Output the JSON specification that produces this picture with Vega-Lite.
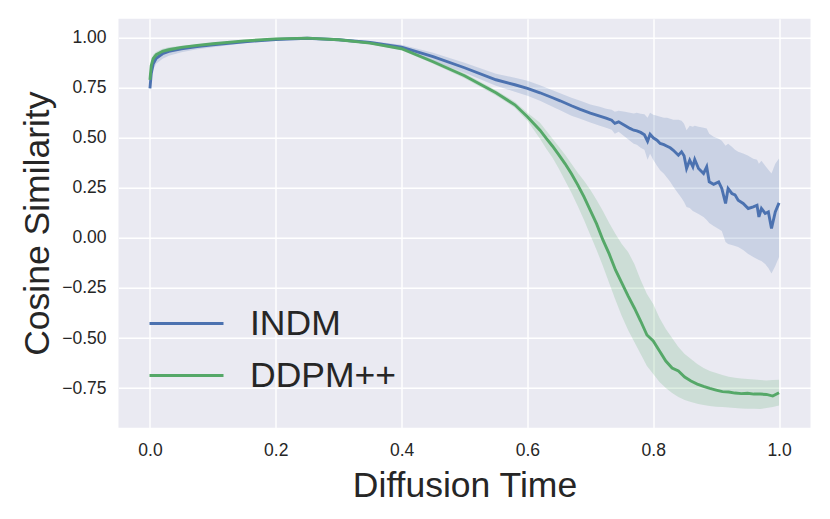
{
  "$schema": "https://vega.github.io/schema/vega-lite/v6.json",
  "description": "Cosine similarity over diffusion time, INDM vs DDPM++",
  "width": 692,
  "height": 409,
  "autosize": {"type": "none"},
  "padding": {"left": 118.5, "top": 18.7, "right": 19.5, "bottom": 91.3},
  "background": "white",
  "config": {
    "view": {"fill": "#EAEAF2", "stroke": null},
    "font": "Liberation Sans",
    "axis": {
      "grid": true,
      "gridColor": "white",
      "gridWidth": 1.4,
      "domain": false,
      "ticks": false,
      "labelFont": "Liberation Sans",
      "labelFontSize": 17.5,
      "labelColor": "#262626",
      "titleFont": "Liberation Sans",
      "titleFontSize": 35.5,
      "titleFontWeight": "normal",
      "titleColor": "#262626"
    }
  },
  "data": {
    "values": [
      {"t": 0, "s": "INDM", "m": 0.747, "lo": 0.725, "hi": 0.77},
      {"t": 0.002, "s": "INDM", "m": 0.82, "lo": 0.79, "hi": 0.85},
      {"t": 0.005, "s": "INDM", "m": 0.868, "lo": 0.84, "hi": 0.893},
      {"t": 0.01, "s": "INDM", "m": 0.897, "lo": 0.87, "hi": 0.92},
      {"t": 0.02, "s": "INDM", "m": 0.92, "lo": 0.895, "hi": 0.94},
      {"t": 0.03, "s": "INDM", "m": 0.932, "lo": 0.91, "hi": 0.95},
      {"t": 0.05, "s": "INDM", "m": 0.945, "lo": 0.927, "hi": 0.958},
      {"t": 0.075, "s": "INDM", "m": 0.956, "lo": 0.942, "hi": 0.966},
      {"t": 0.1, "s": "INDM", "m": 0.965, "lo": 0.953, "hi": 0.974},
      {"t": 0.15, "s": "INDM", "m": 0.98, "lo": 0.972, "hi": 0.987},
      {"t": 0.2, "s": "INDM", "m": 0.991, "lo": 0.986, "hi": 0.995},
      {"t": 0.25, "s": "INDM", "m": 0.997, "lo": 0.994, "hi": 0.999},
      {"t": 0.3, "s": "INDM", "m": 0.99, "lo": 0.985, "hi": 0.995},
      {"t": 0.35, "s": "INDM", "m": 0.976, "lo": 0.968, "hi": 0.984},
      {"t": 0.4, "s": "INDM", "m": 0.953, "lo": 0.94, "hi": 0.965},
      {"t": 0.45, "s": "INDM", "m": 0.905, "lo": 0.885, "hi": 0.925},
      {"t": 0.5, "s": "INDM", "m": 0.85, "lo": 0.825, "hi": 0.875},
      {"t": 0.55, "s": "INDM", "m": 0.79, "lo": 0.76, "hi": 0.82},
      {"t": 0.58, "s": "INDM", "m": 0.765, "lo": 0.73, "hi": 0.8},
      {"t": 0.6, "s": "INDM", "m": 0.747, "lo": 0.71, "hi": 0.785},
      {"t": 0.62, "s": "INDM", "m": 0.725, "lo": 0.685, "hi": 0.763},
      {"t": 0.64, "s": "INDM", "m": 0.7, "lo": 0.655, "hi": 0.738},
      {"t": 0.652, "s": "INDM", "m": 0.685, "lo": 0.638, "hi": 0.722},
      {"t": 0.67, "s": "INDM", "m": 0.66, "lo": 0.61, "hi": 0.7},
      {"t": 0.684, "s": "INDM", "m": 0.642, "lo": 0.595, "hi": 0.685},
      {"t": 0.7, "s": "INDM", "m": 0.623, "lo": 0.577, "hi": 0.667},
      {"t": 0.715, "s": "INDM", "m": 0.608, "lo": 0.56, "hi": 0.655},
      {"t": 0.725, "s": "INDM", "m": 0.598, "lo": 0.55, "hi": 0.645},
      {"t": 0.734, "s": "INDM", "m": 0.588, "lo": 0.54, "hi": 0.64},
      {"t": 0.739, "s": "INDM", "m": 0.572, "lo": 0.52, "hi": 0.63},
      {"t": 0.745, "s": "INDM", "m": 0.58, "lo": 0.53, "hi": 0.635},
      {"t": 0.755, "s": "INDM", "m": 0.562, "lo": 0.505, "hi": 0.63},
      {"t": 0.763, "s": "INDM", "m": 0.547, "lo": 0.485, "hi": 0.625},
      {"t": 0.769, "s": "INDM", "m": 0.538, "lo": 0.47, "hi": 0.622},
      {"t": 0.774, "s": "INDM", "m": 0.535, "lo": 0.465, "hi": 0.625},
      {"t": 0.78, "s": "INDM", "m": 0.527, "lo": 0.45, "hi": 0.62},
      {"t": 0.786, "s": "INDM", "m": 0.515, "lo": 0.44, "hi": 0.618},
      {"t": 0.791, "s": "INDM", "m": 0.483, "lo": 0.39, "hi": 0.6},
      {"t": 0.795, "s": "INDM", "m": 0.518, "lo": 0.42, "hi": 0.625},
      {"t": 0.8, "s": "INDM", "m": 0.5, "lo": 0.39, "hi": 0.615},
      {"t": 0.806, "s": "INDM", "m": 0.488, "lo": 0.36, "hi": 0.61},
      {"t": 0.811, "s": "INDM", "m": 0.472, "lo": 0.338, "hi": 0.605},
      {"t": 0.817, "s": "INDM", "m": 0.466, "lo": 0.32, "hi": 0.6},
      {"t": 0.822, "s": "INDM", "m": 0.458, "lo": 0.3, "hi": 0.6},
      {"t": 0.827, "s": "INDM", "m": 0.45, "lo": 0.28, "hi": 0.595},
      {"t": 0.832, "s": "INDM", "m": 0.438, "lo": 0.255, "hi": 0.59},
      {"t": 0.84, "s": "INDM", "m": 0.413, "lo": 0.22, "hi": 0.59},
      {"t": 0.845, "s": "INDM", "m": 0.43, "lo": 0.2, "hi": 0.585},
      {"t": 0.849, "s": "INDM", "m": 0.41, "lo": 0.18, "hi": 0.57},
      {"t": 0.853, "s": "INDM", "m": 0.347, "lo": 0.155, "hi": 0.538},
      {"t": 0.858, "s": "INDM", "m": 0.388, "lo": 0.15, "hi": 0.56},
      {"t": 0.863, "s": "INDM", "m": 0.355, "lo": 0.135, "hi": 0.555},
      {"t": 0.866, "s": "INDM", "m": 0.392, "lo": 0.13, "hi": 0.56},
      {"t": 0.872, "s": "INDM", "m": 0.347, "lo": 0.12, "hi": 0.555},
      {"t": 0.88, "s": "INDM", "m": 0.322, "lo": 0.105, "hi": 0.55},
      {"t": 0.885, "s": "INDM", "m": 0.355, "lo": 0.09, "hi": 0.547},
      {"t": 0.889, "s": "INDM", "m": 0.28, "lo": 0.075, "hi": 0.52},
      {"t": 0.896, "s": "INDM", "m": 0.268, "lo": 0.06, "hi": 0.505},
      {"t": 0.904, "s": "INDM", "m": 0.28, "lo": 0.045, "hi": 0.495},
      {"t": 0.909, "s": "INDM", "m": 0.247, "lo": 0.035, "hi": 0.485},
      {"t": 0.915, "s": "INDM", "m": 0.172, "lo": -0.02, "hi": 0.46},
      {"t": 0.919, "s": "INDM", "m": 0.247, "lo": -0.03, "hi": 0.47},
      {"t": 0.925, "s": "INDM", "m": 0.222, "lo": -0.035, "hi": 0.455},
      {"t": 0.93, "s": "INDM", "m": 0.215, "lo": -0.04, "hi": 0.44},
      {"t": 0.935, "s": "INDM", "m": 0.188, "lo": -0.045, "hi": 0.43},
      {"t": 0.943, "s": "INDM", "m": 0.172, "lo": -0.06, "hi": 0.422},
      {"t": 0.951, "s": "INDM", "m": 0.147, "lo": -0.08, "hi": 0.41},
      {"t": 0.959, "s": "INDM", "m": 0.155, "lo": -0.095, "hi": 0.395},
      {"t": 0.965, "s": "INDM", "m": 0.163, "lo": -0.105, "hi": 0.39},
      {"t": 0.968, "s": "INDM", "m": 0.105, "lo": -0.11, "hi": 0.37},
      {"t": 0.972, "s": "INDM", "m": 0.147, "lo": -0.115, "hi": 0.385},
      {"t": 0.978, "s": "INDM", "m": 0.122, "lo": -0.13, "hi": 0.36},
      {"t": 0.983, "s": "INDM", "m": 0.13, "lo": -0.15, "hi": 0.34},
      {"t": 0.988, "s": "INDM", "m": 0.047, "lo": -0.178, "hi": 0.322},
      {"t": 0.994, "s": "INDM", "m": 0.13, "lo": -0.14, "hi": 0.37},
      {"t": 1.0, "s": "INDM", "m": 0.175, "lo": -0.095, "hi": 0.397},

      {"t": 0, "s": "DDPM++", "m": 0.79, "lo": 0.77, "hi": 0.81},
      {"t": 0.002, "s": "DDPM++", "m": 0.86, "lo": 0.84, "hi": 0.88},
      {"t": 0.005, "s": "DDPM++", "m": 0.895, "lo": 0.88, "hi": 0.915},
      {"t": 0.01, "s": "DDPM++", "m": 0.915, "lo": 0.9, "hi": 0.93},
      {"t": 0.02, "s": "DDPM++", "m": 0.932, "lo": 0.92, "hi": 0.945},
      {"t": 0.03, "s": "DDPM++", "m": 0.94, "lo": 0.93, "hi": 0.952},
      {"t": 0.05, "s": "DDPM++", "m": 0.952, "lo": 0.943, "hi": 0.96},
      {"t": 0.075, "s": "DDPM++", "m": 0.962, "lo": 0.955, "hi": 0.968},
      {"t": 0.1, "s": "DDPM++", "m": 0.97, "lo": 0.965, "hi": 0.975},
      {"t": 0.15, "s": "DDPM++", "m": 0.984, "lo": 0.98, "hi": 0.988},
      {"t": 0.2, "s": "DDPM++", "m": 0.994, "lo": 0.99, "hi": 0.997},
      {"t": 0.25, "s": "DDPM++", "m": 0.998, "lo": 0.995, "hi": 1.0},
      {"t": 0.3, "s": "DDPM++", "m": 0.99, "lo": 0.986, "hi": 0.994},
      {"t": 0.35, "s": "DDPM++", "m": 0.973, "lo": 0.968, "hi": 0.978},
      {"t": 0.4, "s": "DDPM++", "m": 0.945, "lo": 0.938, "hi": 0.952},
      {"t": 0.45, "s": "DDPM++", "m": 0.88, "lo": 0.87, "hi": 0.89},
      {"t": 0.5, "s": "DDPM++", "m": 0.81, "lo": 0.798, "hi": 0.822},
      {"t": 0.55, "s": "DDPM++", "m": 0.725, "lo": 0.712, "hi": 0.738},
      {"t": 0.58, "s": "DDPM++", "m": 0.665, "lo": 0.65, "hi": 0.68},
      {"t": 0.6, "s": "DDPM++", "m": 0.605, "lo": 0.585, "hi": 0.625},
      {"t": 0.61, "s": "DDPM++", "m": 0.572, "lo": 0.54, "hi": 0.6},
      {"t": 0.62, "s": "DDPM++", "m": 0.538, "lo": 0.495, "hi": 0.575},
      {"t": 0.63, "s": "DDPM++", "m": 0.497, "lo": 0.445, "hi": 0.535},
      {"t": 0.64, "s": "DDPM++", "m": 0.458, "lo": 0.4, "hi": 0.495},
      {"t": 0.65, "s": "DDPM++", "m": 0.415, "lo": 0.345, "hi": 0.455},
      {"t": 0.66, "s": "DDPM++", "m": 0.37, "lo": 0.285, "hi": 0.415},
      {"t": 0.67, "s": "DDPM++", "m": 0.32, "lo": 0.225, "hi": 0.37},
      {"t": 0.68, "s": "DDPM++", "m": 0.265, "lo": 0.16, "hi": 0.325},
      {"t": 0.69, "s": "DDPM++", "m": 0.205, "lo": 0.09, "hi": 0.285},
      {"t": 0.7, "s": "DDPM++", "m": 0.138, "lo": 0.015, "hi": 0.24},
      {"t": 0.71, "s": "DDPM++", "m": 0.07, "lo": -0.06, "hi": 0.19},
      {"t": 0.72, "s": "DDPM++", "m": -0.01, "lo": -0.14, "hi": 0.135},
      {"t": 0.73, "s": "DDPM++", "m": -0.08, "lo": -0.225, "hi": 0.075},
      {"t": 0.74, "s": "DDPM++", "m": -0.16, "lo": -0.31, "hi": 0.02},
      {"t": 0.75, "s": "DDPM++", "m": -0.225, "lo": -0.39, "hi": -0.03},
      {"t": 0.76, "s": "DDPM++", "m": -0.29, "lo": -0.46, "hi": -0.07},
      {"t": 0.77, "s": "DDPM++", "m": -0.35, "lo": -0.52, "hi": -0.13},
      {"t": 0.78, "s": "DDPM++", "m": -0.415, "lo": -0.58, "hi": -0.21},
      {"t": 0.79, "s": "DDPM++", "m": -0.485, "lo": -0.64, "hi": -0.28},
      {"t": 0.8, "s": "DDPM++", "m": -0.515, "lo": -0.68, "hi": -0.33},
      {"t": 0.81, "s": "DDPM++", "m": -0.565, "lo": -0.72, "hi": -0.4},
      {"t": 0.82, "s": "DDPM++", "m": -0.615, "lo": -0.75, "hi": -0.455},
      {"t": 0.83, "s": "DDPM++", "m": -0.65, "lo": -0.775, "hi": -0.5},
      {"t": 0.84, "s": "DDPM++", "m": -0.665, "lo": -0.795, "hi": -0.545},
      {"t": 0.85, "s": "DDPM++", "m": -0.695, "lo": -0.81, "hi": -0.58},
      {"t": 0.86, "s": "DDPM++", "m": -0.715, "lo": -0.82, "hi": -0.605},
      {"t": 0.87, "s": "DDPM++", "m": -0.73, "lo": -0.828, "hi": -0.63},
      {"t": 0.88, "s": "DDPM++", "m": -0.742, "lo": -0.835, "hi": -0.65},
      {"t": 0.89, "s": "DDPM++", "m": -0.752, "lo": -0.84, "hi": -0.665},
      {"t": 0.9, "s": "DDPM++", "m": -0.76, "lo": -0.843, "hi": -0.675},
      {"t": 0.91, "s": "DDPM++", "m": -0.768, "lo": -0.845, "hi": -0.685},
      {"t": 0.92, "s": "DDPM++", "m": -0.77, "lo": -0.847, "hi": -0.693},
      {"t": 0.93, "s": "DDPM++", "m": -0.775, "lo": -0.85, "hi": -0.698},
      {"t": 0.94, "s": "DDPM++", "m": -0.778, "lo": -0.852, "hi": -0.702},
      {"t": 0.95, "s": "DDPM++", "m": -0.776, "lo": -0.853, "hi": -0.705},
      {"t": 0.96, "s": "DDPM++", "m": -0.78, "lo": -0.853, "hi": -0.707},
      {"t": 0.97, "s": "DDPM++", "m": -0.78, "lo": -0.854, "hi": -0.71},
      {"t": 0.98, "s": "DDPM++", "m": -0.782, "lo": -0.85, "hi": -0.712},
      {"t": 0.99, "s": "DDPM++", "m": -0.79, "lo": -0.845, "hi": -0.71},
      {"t": 1.0, "s": "DDPM++", "m": -0.773, "lo": -0.837, "hi": -0.708}
    ]
  },
  "encoding": {
    "x": {
      "field": "t",
      "type": "quantitative",
      "title": "Diffusion Time",
      "scale": {"domain": [-0.05, 1.05], "nice": false, "zero": false},
      "axis": {"values": [0, 0.2, 0.4, 0.6, 0.8, 1.0], "format": ".1f", "labelPadding": 14, "titlePadding": 9}
    }
  },
  "layer": [
    {
      "transform": [{"filter": "datum.s == 'INDM'"}],
      "mark": {"type": "area", "color": "#4C72B0", "fillOpacity": 0.2},
      "encoding": {
        "y": {
          "field": "lo",
          "type": "quantitative",
          "title": "Cosine Similarity",
          "scale": {"domain": [-0.948, 1.095], "nice": false, "zero": false},
          "axis": {"values": [-0.75, -0.5, -0.25, 0, 0.25, 0.5, 0.75, 1.0], "format": ".2f", "labelPadding": 12.5, "titlePadding": 6}
        },
        "y2": {"field": "hi"}
      }
    },
    {
      "transform": [{"filter": "datum.s == 'DDPM++'"}],
      "mark": {"type": "area", "color": "#55A868", "fillOpacity": 0.2},
      "encoding": {
        "y": {"field": "lo", "type": "quantitative"},
        "y2": {"field": "hi"}
      }
    },
    {
      "transform": [{"filter": "datum.s == 'INDM'"}],
      "mark": {"type": "line", "strokeWidth": 2.9},
      "encoding": {
        "y": {"field": "m", "type": "quantitative"},
        "stroke": {
          "field": "s",
          "type": "nominal",
          "scale": {"domain": ["INDM", "DDPM++"], "range": ["#4C72B0", "#55A868"]},
          "legend": {
            "title": null,
            "orient": "none",
            "legendX": 29.5,
            "legendY": 279,
            "symbolType": "stroke",
            "symbolSize": 5476,
            "symbolStrokeWidth": 2.9,
            "labelFont": "Liberation Sans",
            "labelFontSize": 35.5,
            "labelColor": "#262626",
            "labelOffset": 25,
            "clipHeight": 51.7,
            "rowPadding": 0
          }
        }
      }
    },
    {
      "transform": [{"filter": "datum.s == 'DDPM++'"}],
      "mark": {"type": "line", "strokeWidth": 2.9},
      "encoding": {
        "y": {"field": "m", "type": "quantitative"},
        "stroke": {"field": "s", "type": "nominal"}
      }
    }
  ]
}
